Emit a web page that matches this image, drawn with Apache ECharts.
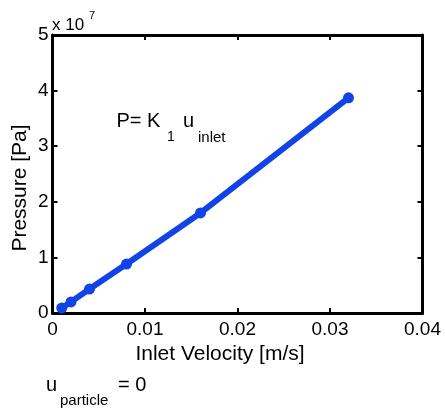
<!DOCTYPE html>
<html>
<head>
<meta charset="utf-8">
<script src="https://cdn.jsdelivr.net/npm/echarts@6/dist/echarts.min.js"></script>
<style>
  html, body { margin: 0; padding: 0; background: #fff; }
  #chart { width: 445px; height: 408px; }
</style>
</head>
<body>
<div id="chart"></div>
<script>
// Inlet velocity [m/s] and the resulting pressure [Pa]
const velocity = [0.001, 0.002, 0.004, 0.008, 0.016, 0.032];
const pressure = [0.09e7, 0.2e7, 0.43e7, 0.88e7, 1.8e7, 3.87e7];

// Axis ranges and tick spacing
const xRange = [0, 0.04];
const xStep = 0.01;
const yRange = [0, 5e7];
const yStep = 1e7;
const yScale = 1e7;

const FONT = '"Liberation Sans", Arial, Helvetica, sans-serif';
const BLUE = '#1243e6';

const chart = echarts.init(document.getElementById('chart'), null, { renderer: 'canvas' });

// box frame: every axis keeps its own side of the grid
const frameLine = { show: true, onZero: false, lineStyle: { color: '#000', width: 3 } };
const innerTick = { show: true, inside: true, length: 5, lineStyle: { color: '#000', width: 2 } };

function textEl(text, x, y, size, opts) {
  return Object.assign({
    type: 'text',
    x: x,
    y: y,
    style: Object.assign({
      text: text,
      fontFamily: FONT,
      fontSize: size,
      fill: '#000',
      align: 'left',
      verticalAlign: 'middle'
    }, (opts && opts.style) || {})
  }, (opts && opts.el) || {});
}

chart.setOption({
  animation: false,
  backgroundColor: '#fff',
  grid: { left: 52.5, right: 22.5, top: 35, bottom: 95, containLabel: false },
  xAxis: [
    {
      type: 'value', position: 'bottom',
      min: xRange[0], max: xRange[1], interval: xStep,
      axisLine: frameLine, axisTick: innerTick, splitLine: { show: false },
      axisLabel: { margin: 7, color: '#000', fontFamily: FONT, fontSize: 19 }
    },
    {
      type: 'value', position: 'top',
      min: xRange[0], max: xRange[1], interval: xStep,
      axisLine: frameLine, axisTick: innerTick, splitLine: { show: false },
      axisLabel: { show: false }
    }
  ],
  yAxis: [
    {
      type: 'value', position: 'left',
      min: yRange[0], max: yRange[1], interval: yStep,
      axisLine: frameLine, axisTick: innerTick, splitLine: { show: false },
      axisLabel: {
        margin: 4, color: '#000', fontFamily: FONT, fontSize: 19,
        formatter: v => String(Math.round(v / yScale))
      }
    },
    {
      type: 'value', position: 'right',
      min: yRange[0], max: yRange[1], interval: yStep,
      axisLine: frameLine, axisTick: innerTick, splitLine: { show: false },
      axisLabel: { show: false }
    }
  ],
  series: [
    {
      type: 'line',
      xAxisIndex: 0,
      yAxisIndex: 0,
      data: velocity.map((v, i) => [v, pressure[i]]),
      symbol: 'circle',
      symbolSize: 11,
      lineStyle: { color: BLUE, width: 6 },
      itemStyle: { color: BLUE },
      z: 5
    }
  ],
  graphic: [
    // exponent of the pressure axis
    textEl('x 10', 52, 25.5, 17),
    textEl('7', 89, 15.5, 11),
    // axis titles
    textEl('Inlet Velocity [m/s]', 220, 354.5, 21, { style: { align: 'center' } }),
    textEl('Pressure [Pa]', 20, 188, 21, { style: { align: 'center' }, el: { rotation: Math.PI / 2 } }),
    // fitted relation
    textEl('P= K', 116.5, 121, 20),
    textEl('1', 167, 137, 14),
    textEl('u', 183, 121, 20),
    textEl('inlet', 198, 138, 15),
    // particle velocity note
    textEl('u', 46, 385, 20),
    textEl('particle', 60, 400.5, 15),
    textEl('= 0', 118, 385, 20)
  ]
});
</script>
</body>
</html>
